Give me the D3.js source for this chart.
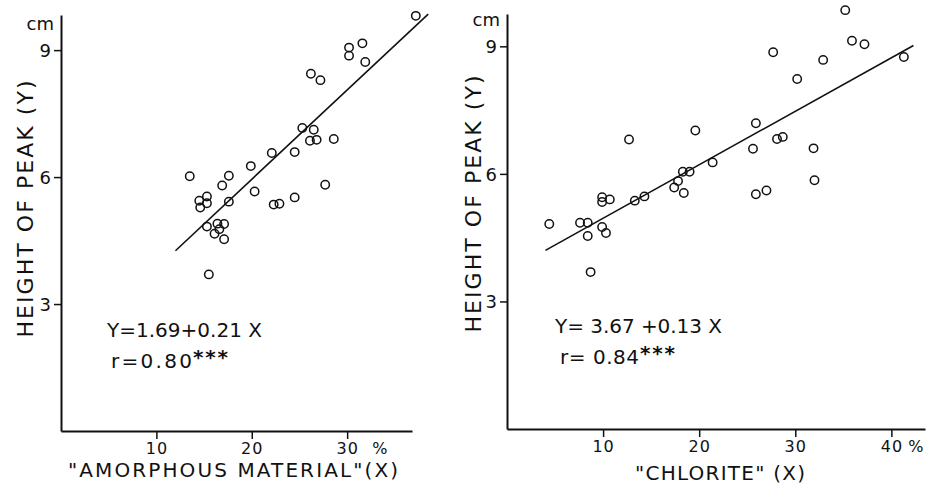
<!DOCTYPE html>
<html>
<head>
<meta charset="utf-8">
<script src="https://cdn.jsdelivr.net/npm/d3@7"></script>
<style>
  body { margin: 0; background: #fff; }
  svg { display: block; }
  text { font-family: "DejaVu Sans", sans-serif; fill: #111; }
</style>
</head>
<body>
<div id="chart"></div>
<script>
// amorphous material (%) vs height of peak (cm)
const amorphX = [37.2, 30.2, 31.6, 30.2, 31.9, 26.2, 27.2, 25.3, 26.5, 26.1, 26.8, 28.6,
  22.1, 24.5, 19.9, 13.5, 17.6, 16.9, 27.7, 20.3, 15.3, 14.5, 15.3, 17.6, 14.6, 24.5,
  22.3, 22.9, 15.3, 16.4, 17.1, 16.6, 16.1, 17.1, 15.5];
const amorphY = [9.81, 9.06, 9.16, 8.87, 8.72, 8.44, 8.29, 7.16, 7.12, 6.86, 6.88, 6.90,
  6.57, 6.59, 6.26, 6.02, 6.03, 5.80, 5.82, 5.66, 5.54, 5.44, 5.38, 5.42, 5.28, 5.52,
  5.35, 5.37, 4.83, 4.90, 4.89, 4.77, 4.66, 4.53, 3.70];

// chlorite (%) vs height of peak (cm)
const chlorX = [35.2, 35.9, 37.2, 41.3, 27.7, 32.9, 30.2, 25.9, 19.6, 12.7, 28.1, 28.7,
  25.6, 31.9, 21.4, 18.3, 19.0, 17.8, 17.4, 18.4, 25.9, 27.0, 32.0, 14.3, 13.3, 9.9,
  9.9, 10.7, 4.4, 7.6, 8.4, 9.9, 10.3, 8.4, 8.7];
const chlorY = [9.85, 9.13, 9.05, 8.75, 8.86, 8.68, 8.23, 7.19, 7.02, 6.81, 6.82, 6.87,
  6.59, 6.60, 6.27, 6.05, 6.05, 5.83, 5.68, 5.55, 5.52, 5.61, 5.85, 5.47, 5.37, 5.45,
  5.34, 5.40, 4.82, 4.85, 4.85, 4.75, 4.61, 4.54, 3.69];

// fitted lines, end points as drawn
const amorphFit = [[12.0, 4.26], [38.5, 9.85]];
const chlorFit = [[4.0, 4.20], [42.3, 9.02]];

const yTicks = [3, 6, 9];
const amorphTicks = [10, 20, 30];
const chlorTicks = [10, 20, 30, 40];

const W = 930, H = 485;

const svg = d3.select("#chart")
  .append("svg")
  .attr("width", W)
  .attr("height", H)
  .style("background-color", "#ffffff");

function drawPanel(p) {
  const g = svg.append("g");

  const x = d3.scaleLinear().domain(p.xDomain).range(p.xRange);
  const y = d3.scaleLinear().domain(p.yDomain).range(p.yRange);

  // axes
  const xAxis = g.append("g")
    .attr("transform", "translate(0," + y(0) + ")")
    .call(d3.axisBottom(x).tickValues(p.xTicks).tickSize(8).tickPadding(4).tickSizeOuter(0));
  const yAxis = g.append("g")
    .attr("transform", "translate(" + x(0) + ",0)")
    .call(d3.axisLeft(y).tickValues(yTicks).tickSize(7).tickPadding(3).tickSizeOuter(0));

  [xAxis, yAxis].forEach(a => {
    a.select(".domain").attr("stroke", "#111").attr("stroke-width", 2);
    a.selectAll(".tick line").attr("stroke", "#111").attr("stroke-width", 1.5);
    a.selectAll(".tick text")
      .style("font-family", "DejaVu Sans, sans-serif")
      .attr("fill", "#111");
  });
  xAxis.selectAll(".tick text").style("font-size", "16px").attr("letter-spacing", 1);
  yAxis.selectAll(".tick text").style("font-size", "18px").attr("dy", "0.36em");

  // percent sign after the last tick
  const last = p.xTicks[p.xTicks.length - 1];
  g.append("text")
    .attr("x", x(last) + p.pctDx)
    .attr("y", y(0) + 23)
    .style("font-size", "16px")
    .text("%");

  // unit
  g.append("text")
    .attr("x", x(0) - 7)
    .attr("y", p.cmY)
    .attr("text-anchor", "end")
    .style("font-size", "18px")
    .text("cm");

  // axis titles
  g.append("text")
    .attr("transform", "translate(" + p.yTitleX + "," + p.yTitleY + ") rotate(-90)")
    .attr("text-anchor", "middle")
    .attr("textLength", 257)
    .attr("lengthAdjust", "spacing")
    .style("font-size", "22px")
    .text("HEIGHT OF PEAK (Y)");

  g.append("text")
    .attr("x", p.xTitleX)
    .attr("y", p.xTitleY)
    .attr("text-anchor", "middle")
    .attr("textLength", p.xTitleLen)
    .attr("lengthAdjust", "spacing")
    .style("font-size", "20px")
    .text(p.xTitle);

  // regression line
  g.append("line")
    .attr("x1", x(p.fit[0][0])).attr("y1", y(p.fit[0][1]))
    .attr("x2", x(p.fit[1][0])).attr("y2", y(p.fit[1][1]))
    .attr("stroke", "#111")
    .attr("stroke-width", 1.6);

  // points
  g.selectAll("circle")
    .data(p.xs.map((v, i) => [v, p.ys[i]]))
    .enter()
    .append("circle")
    .attr("cx", d => x(d[0]))
    .attr("cy", d => y(d[1]))
    .attr("r", 4.2)
    .attr("fill", "none")
    .attr("stroke", "#111")
    .attr("stroke-width", 1.5);

  // equation
  g.append("text")
    .attr("x", p.eqX)
    .attr("y", p.eqY)
    .attr("textLength", p.eqLen)
    .attr("lengthAdjust", "spacing")
    .style("font-size", "20px")
    .text(p.eq);

  g.append("text")
    .attr("x", p.rX)
    .attr("y", p.rY)
    .attr("textLength", p.rLen)
    .attr("lengthAdjust", "spacing")
    .style("font-size", "20px")
    .text(p.r);
  g.append("text")
    .attr("x", p.rX + p.rLen + 1)
    .attr("y", p.rY - 4)
    .attr("textLength", 35)
    .attr("lengthAdjust", "spacing")
    .style("font-size", "20px")
    .style("font-weight", "bold")
    .text("***");
}

drawPanel({
  xs: amorphX, ys: amorphY, fit: amorphFit, xTicks: amorphTicks,
  xDomain: [0, 36.8], xRange: [61, 412],
  yDomain: [0, 9.83], yRange: [431, 15],
  cmY: 30, pctDx: 25,
  yTitleX: 33, yTitleY: 209,
  xTitle: "\"AMORPHOUS MATERIAL\"(X)", xTitleX: 233, xTitleY: 477, xTitleLen: 330,
  eq: "Y=1.69+0.21 X", eqX: 107, eqY: 337, eqLen: 155,
  r: "r=0.80", rX: 111, rY: 368, rLen: 81
});

drawPanel({
  xs: chlorX, ys: chlorY, fit: chlorFit, xTicks: chlorTicks,
  xDomain: [0, 43.5], xRange: [507, 925],
  yDomain: [0, 9.76], yRange: [429, 14],
  cmY: 26, pctDx: 17,
  yTitleX: 481, yTitleY: 204,
  xTitle: "\"CHLORITE\" (X)", xTitleX: 720, xTitleY: 480, xTitleLen: 170,
  eq: "Y= 3.67 +0.13 X", eqX: 555, eqY: 333, eqLen: 167,
  r: "r= 0.84", rX: 560, rY: 364, rLen: 79
});
</script>
</body>
</html>
